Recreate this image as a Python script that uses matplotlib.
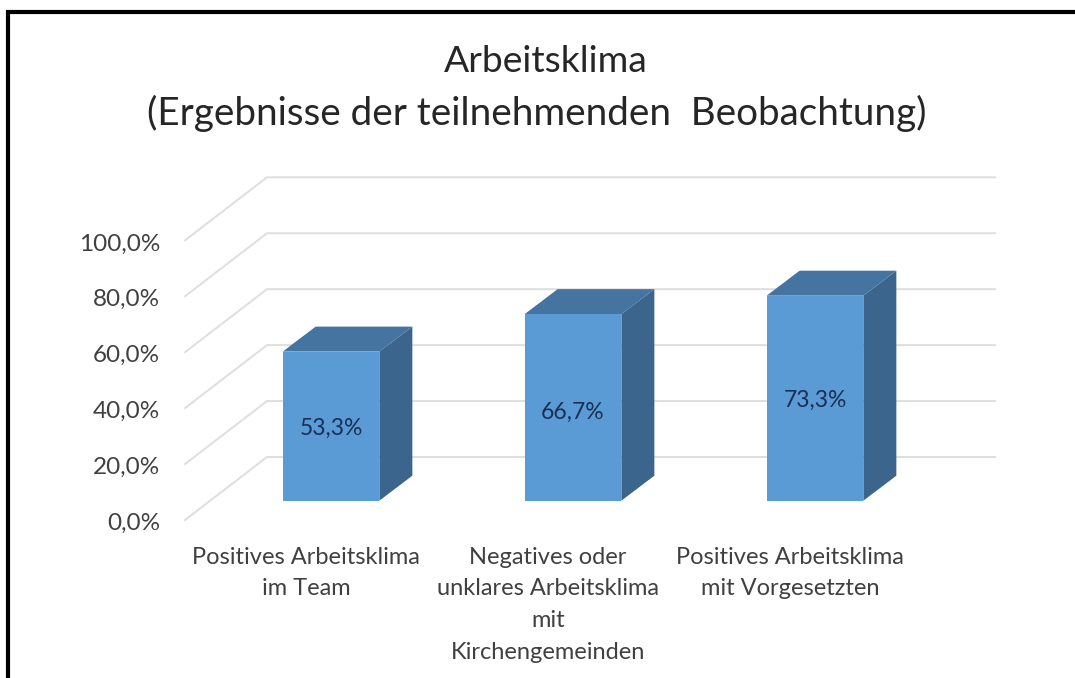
import matplotlib
matplotlib.use("Agg")
import matplotlib.pyplot as plt
from matplotlib.lines import Line2D
from matplotlib.patches import Polygon
from matplotlib.transforms import ScaledTranslation

categories = ["Positives Arbeitsklima\nim Team",
              "Negatives oder\nunklares Arbeitsklima\nmit\nKirchengemeinden",
              "Positives Arbeitsklima\nmit Vorgesetzten"]
values = [53.3, 66.7, 73.3]
value_labels = ["53,3%", "66,7%", "73,3%"]
value_label_y = [25.9, 31.6, 35.9]
y_ticks = [0, 20, 40, 60, 80, 100]
y_tick_labels = ["0,0%", "20,0%", "40,0%", "60,0%", "80,0%", "100,0%"]
title_lines = ["Arbeitsklima", "(Ergebnisse der teilnehmenden  Beobachtung)"]

W, H = 1075, 678
plt.rcParams["font.family"] = ["Lato", "DejaVu Sans"]
fig = plt.figure(figsize=(W / 100, H / 100), dpi=100, facecolor="white")

# layout in pixels
PX_PER_CAT = 242.0
PX_PER_PCT = 2.797
X0 = 331.0        # first bar centre
Y0 = 500.7        # value 0 on the bars' front plane
PL, PR = 185.0, 995.0
BAR_W = 96.7
FRONT, SIDE, TOP = "#5B9BD5", "#3B658C", "#44749F"

ax = fig.add_axes([PL / W, 1 - Y0 / H, (PR - PL) / W, PX_PER_PCT * 100 / H])
ax.patch.set_alpha(0)
ax.set_xlim((PL - X0) / PX_PER_CAT, (PR - X0) / PX_PER_CAT)
ax.set_ylim(0, 100)
for s in ax.spines.values():
    s.set_visible(False)

def dx(px):
    return px / PX_PER_CAT

def dy(px):
    return px / PX_PER_PCT

# gridlines: floor-edge diagonal, then along the back wall
xl, xr = ax.get_xlim()
for v in y_ticks:
    ax.plot([xl, xl + dx(82), xr], [v - dy(19.3), v + dy(43.7), v + dy(43.7)],
            color="#DEDEDE", lw=1.4, clip_on=False, zorder=1)

# bars
d_x, d_y = dx(33), dy(25)
hw = dx(BAR_W) / 2
for i, v in enumerate(values):
    ax.add_patch(Polygon([(i + hw, 0), (i + hw + d_x, d_y), (i + hw + d_x, v + d_y), (i + hw, v)],
                         fc=SIDE, ec="none", clip_on=False, zorder=2))
    ax.add_patch(Polygon([(i - hw, v), (i - hw + d_x, v + d_y), (i + hw + d_x, v + d_y), (i + hw, v)],
                         fc=TOP, ec="none", clip_on=False, zorder=2))
    ax.bar(i, v, width=2 * hw, color=FRONT, zorder=3, clip_on=False)
    ax.text(i, value_label_y[i], value_labels[i], ha="center", va="center", fontsize=16.5,
            color="#1A2F55", zorder=4)

ax.set_xticks(range(len(categories)), categories, fontsize=17, color="#404040", linespacing=1.64)
ax.tick_params(axis="x", length=0, pad=33)
# category labels sit left of the bars because of the 3D projection
shift = ScaledTranslation(-25 / 100, 0, fig.dpi_scale_trans)
for lab in ax.get_xticklabels():
    lab.set_transform(lab.get_transform() + shift)
ax.set_yticks([])

# value axis on the front-left edge
ay = fig.add_axes([PL / W, 1 - 521 / H, 0.01, 279 / H])
ay.patch.set_alpha(0)
ay.set_ylim(0, 100)
ay.set_xticks([])
ay.set_yticks(y_ticks, y_tick_labels, fontsize=17.5, color="#404040")
ay.tick_params(axis="y", length=0, pad=18)
for s in ay.spines.values():
    s.set_visible(False)

fig.text(546 / W, 1 - 61 / H, title_lines[0], ha="center", va="center", fontsize=26.8, color="#262626")
fig.text(536.5 / W, 1 - 113 / H, title_lines[1], ha="center", va="center", fontsize=27.8, color="#262626")

# outer frame: top and left edges only
fig.add_artist(Line2D([8 / W, 8 / W, 1], [0, 1 - 11.5 / H, 1 - 11.5 / H], transform=fig.transFigure,
                      color="black", lw=3, solid_joinstyle="miter"))

fig.savefig("out.png", dpi=100)
